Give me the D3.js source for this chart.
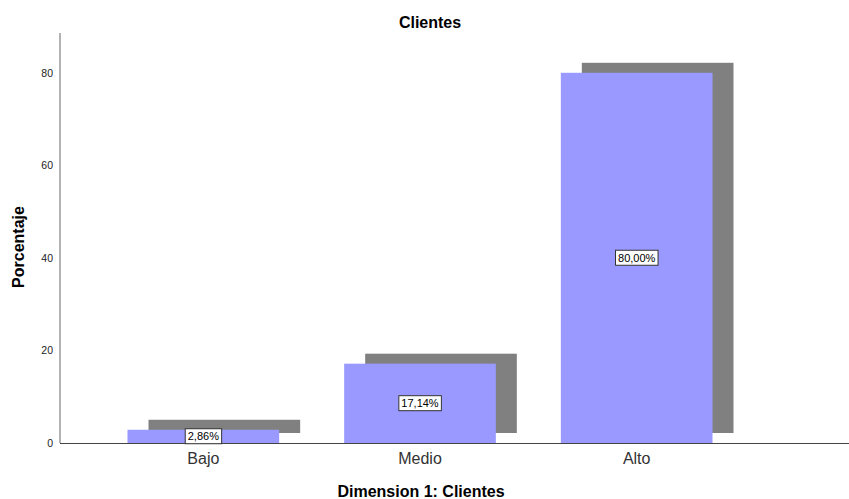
<!DOCTYPE html>
<html>
<head>
<meta charset="utf-8">
<script src="https://cdn.jsdelivr.net/npm/d3@7"></script>
<style>
  html, body { margin: 0; padding: 0; background: #fff; }
  svg { display: block; font-family: "Liberation Sans", Arial, sans-serif; }
</style>
</head>
<body>
<svg id="chart" width="849" height="499"></svg>
<script>
const categories = ["Bajo", "Medio", "Alto"];
const values = [2.86, 17.14, 80.00];
const labels = ["2,86%", "17,14%", "80,00%"];
const yTicks = [0, 20, 40, 60, 80];
const chartTitle = "Clientes";
const xTitle = "Dimension 1: Clientes";
const yTitle = "Porcentaje";

const W = 849, H = 499;
const svg = d3.select("#chart");

const y = d3.scaleLinear().domain([0, 88.6]).range([443, 33]);
const x = d3.scaleBand().domain(categories).range([95, 745]).paddingInner(0.3).paddingOuter(0.15);
const shadowDx = 21, shadowDy = -10;

// shadows
svg.append("g").selectAll("rect").data(values).join("rect")
  .attr("x", (d, i) => x(categories[i]) + shadowDx)
  .attr("y", d => y(d) + shadowDy)
  .attr("width", x.bandwidth())
  .attr("height", d => y(0) - y(d))
  .attr("fill", "#808080");

// bars
svg.append("g").selectAll("rect").data(values).join("rect")
  .attr("x", (d, i) => x(categories[i]))
  .attr("y", d => y(d))
  .attr("width", x.bandwidth())
  .attr("height", d => y(0) - y(d))
  .attr("fill", "#9999ff");

// axes
const yAxis = svg.append("g").attr("transform", "translate(60,0)")
  .call(d3.axisLeft(y).tickValues(yTicks).tickSize(0).tickPadding(7).tickFormat(d3.format("d")));
yAxis.select(".domain").remove();
yAxis.selectAll("text").attr("font-size", 10.5).attr("fill", "#222").attr("font-family", "Liberation Sans, Arial, sans-serif");
svg.append("line").attr("x1", 60).attr("x2", 60).attr("y1", y.range()[1]).attr("y2", y(0))
  .attr("stroke", "#666").attr("stroke-width", 1);

const xAxis = svg.append("g").attr("transform", `translate(0,${y(0)})`)
  .call(d3.axisBottom(x).tickSize(0).tickPadding(10));
xAxis.select(".domain").remove();
xAxis.selectAll("text").attr("font-size", 16).attr("fill", "#333").attr("font-family", "Liberation Sans, Arial, sans-serif");
svg.append("line").attr("x1", 60).attr("x2", W).attr("y1", y(0) + 0.5).attr("y2", y(0) + 0.5)
  .attr("stroke", "#444").attr("stroke-width", 1);

// value labels
const lg = svg.append("g").selectAll("g").data(values).join("g")
  .attr("transform", (d, i) => `translate(${x(categories[i]) + x.bandwidth() / 2},${(y(0) + y(d)) / 2})`);
lg.append("text")
  .attr("text-anchor", "middle").attr("dy", "0.35em")
  .attr("font-size", 11).attr("fill", "#000")
  .text((d, i) => labels[i]);
lg.each(function () {
  const g = d3.select(this);
  const bb = g.select("text").node().getBBox();
  g.insert("rect", "text")
    .attr("x", bb.x - 2.5).attr("y", bb.y - 1.5)
    .attr("width", bb.width + 5).attr("height", bb.height + 3)
    .attr("fill", "#fff").attr("stroke", "#333").attr("stroke-width", 1);
});

// titles
svg.append("text").attr("x", 430).attr("y", 28).attr("text-anchor", "middle")
  .attr("font-size", 16).attr("font-weight", "bold").attr("fill", "#000").text(chartTitle);
svg.append("text").attr("x", 421).attr("y", 497).attr("text-anchor", "middle")
  .attr("font-size", 16).attr("font-weight", "bold").attr("fill", "#000").text(xTitle);
svg.append("text").attr("transform", "translate(24,247) rotate(-90)").attr("text-anchor", "middle")
  .attr("font-size", 16).attr("font-weight", "bold").attr("fill", "#000").text(yTitle);
</script>
</body>
</html>
